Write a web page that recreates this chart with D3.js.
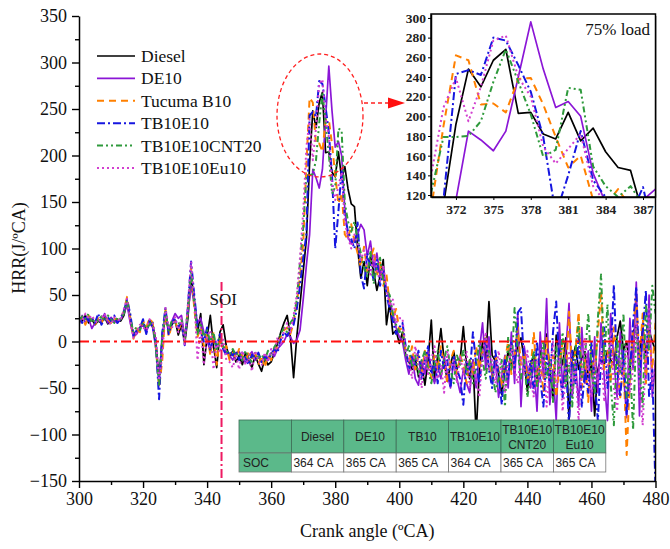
<!DOCTYPE html>
<html>
<head>
<meta charset="utf-8">
<script src="https://cdn.jsdelivr.net/npm/d3@7/dist/d3.min.js"></script>
<style>
  html, body { margin: 0; padding: 0; background: #fff; }
  svg { display: block; }
  .serif { font-family: "Liberation Serif", "Times New Roman", Times, serif; }
  .sans { font-family: "Liberation Sans", Arial, Helvetica, sans-serif; }
</style>
</head>
<body>
<svg id="chart" width="670" height="549"></svg>
<script>
// Heat release rate (J/°CA) per crank angle, 300–480 °CA, 1 °CA step
const startCA = 300;
const endCA = 480;

const diesel = [
  25, 22, 28, 20, 24, 18, 22, 20, 26, 19, 23, 21, 24, 22, 28,
  42, 24, 8, 11, 15, 20, 12, 23, 18, 0, -40, 2, 28, 10, 18, 23, 7, 18, -2, 25,
  70, 45, 10, 30, -25, 5, 28, -5, -28, 10, 18, -5, -18,
  -10, -22, -15, -25, -12, -20, -28, -15, -24, -32, -18, -25, -22, -12, -2, 10, 20, 28, 5, -39,
  5, 40, 75, 110, 192,
  248, 230, 257, 268, 203, 204, 182, 177, 204, 175, 188, 164, 148, 145, 100,
  68, 86, 60, 92, 75, 55, 70, 88, 18, 42, 8, 12, -2,
  10, -15, -22, -30, -18, -38, -25, -47, -20, 23, -43, -15, 14, -20, -43, -25, -11, -30, -20, 16,
  -25, -40, -20, -100, -30, 0, -20, 43, -15, -21, -35, -57, -30, -10, -25, -21, -5, 4, -20, -54,
  -25, -14, -40, -10, -21, 8, -30, -61, 7, -11, -25, 4, -85, -20, -5, -30, -18, -11, -40, -21,
  -80, -30, -18, -25, -10, -20, -25, 5, 22, -10, 0, -32, 10, 18, -20, 16, -15, 12, 0, -10
];

const de10 = [
  18, 28, 20, 25, 14, 20, 24, 22, 30, 20, 26, 22, 20, 24, 30,
  40, 20, 5, 8, 14, 18, 10, 20, 15, -8, -45, 8, 30, 12, 22, 30, 25, 28, 5, 30,
  60, 40, 20, 25, 10, 0, -10, 5, -8, 0, -5, -12, -15,
  -20, -12, -11, -18, -23, -15, -11, -20, -16, -22, -14, -18, -12, -16, -8, -4, 0, 8, 5, -2,
  2, 12, 45, 82, 115,
  185, 176, 165, 185, 240, 296, 248, 209, 215, 200, 142, 112, 105, 110, 115,
  126, 120, 92, 108, 80, 95, 72, 80, 55, 45, 30, 15, 5,
  0, -20, -35, -15, -40, -47, -20, -35, -10, -30, -45, -25, -40, -15, -35, -50, -20, -40, -55, -30,
  -45, -55, -20, -50, -10, 20, -30, 5, -40, -20, -60, -35, -15, -50, 10, -45, 30, -70, -5, -30,
  -50, -20, -75, 10, -40, 46, -68, -30, -85, 20, -50, -10, 41, -60, -20, -70, 15, -45, -10, -75,
  5, -55, 20, -40, -85, 30, -20, -60, 10, -35, -82, 25, -30, 64, -80, 20, -40, 50, -60, -20
];

const tucumaB10 = [
  20, 26, 18, 28, 22, 18, 25, 20, 28, 24, 20, 25, 22, 26, 32,
  48, 26, 3, 14, 10, 22, 15, 25, 20, -5, -50, -20, 35, 5, 18, 22, 12, 20, 0, 35,
  79, 35, 5, 15, -5, 10, -15, 10, -25, 5, -10, -5, -20,
  -12, -18, -8, -15, -22, -10, -18, -12, -25, -15, -28, -15, -20, -10, -5, 5, 12, 15, 8, 20,
  40, 70, 105, 190, 262,
  257, 212, 213, 204, 238, 239, 212, 179, 148, 160, 115, 110, 126, 108, 95,
  80, 102, 75, 90, 100, 70, 85, 60, 72, 40, 25, 35, 12,
  15, -10, -25, -5, -30, -15, -35, -10, -20, -40, -15, -30, -5, -25, -45, -20, -10, -35, -15, -25,
  -45, -20, -35, -5, -30, -10, 5, -25, -40, -15, -30, -50, -20, 0, -35, -15, 15, -25, -10, -40,
  -30, 10, -45, -20, -55, 5, -35, -15, -60, -25, 0, -40, 32, -30, -10, 32, -50, -20, -65, -5,
  -35, 10, 54, -30, -10, -45, 15, -25, -60, -20, -122, -40, 15, 47, -20, 30, -45, 10, -30, 20
];

const tb10e10 = [
  26, 20, 28, 22, 26, 20, 30, 18, 24, 26, 22, 28, 20, 25, 33,
  45, 30, 6, 12, 14, 24, 8, 22, 16, -2, -62, 10, 36, 8, 20, 25, 15, 22, -4, 38,
  86, 50, 15, 10, 0, 15, -10, 5, -5, 8, -8, -15, -10,
  -15, -10, -20, -12, -18, -25, -14, -20, -12, -22, -16, -20, -14, -8, -12, 2, 10, 6, 14, 18,
  35, 60, 90, 115, 243,
  247, 242, 280, 277, 252, 225, 179, 100, 140, 185, 135, 118, 110, 100, 128,
  72, 57, 95, 80, 66, 88, 60, 75, 50, 35, 22, 8, 15,
  20, -5, -30, -15, -25, -10, -40, -20, -5, -35, -20, -45, -10, -30, -20, -50, -15, -30, -40, -68,
  -20, -35, 10, -25, -45, -15, 5, -30, -50, -10, -35, -68, -20, -40, 0, -30, 31, 36, -25, -45,
  -20, -55, 0, -40, -70, -15, -45, 10, 43, -30, -60, -20, -90, -10, -45, 5, -70, -30, -55, 0,
  -40, -85, -20, 15, -50, -15, 61, -30, -60, -10, -79, -35, 20, 59, -40, 10, 55, -60, -30, -160
];

const tb10e10cnt20 = [
  22, 27, 24, 30, 20, 24, 22, 27, 22, 28, 24, 20, 26, 24, 30,
  44, 25, 10, 16, 12, 20, 14, 18, 22, -6, -48, 5, 32, 12, 22, 20, 18, 24, 2, 32,
  75, 40, 8, 20, 5, 12, 0, 10, -10, 5, -5, -10, -14,
  -8, -15, -12, -20, -10, -18, -22, -12, -18, -14, -20, -10, -16, -6, 0, 8, 15, 10, 20, 25,
  45, 85, 122, 179, 179,
  180, 195, 235, 268, 235, 202, 159, 166, 229, 227, 149, 129, 118, 129, 110,
  95, 80, 70, 98, 62, 80, 90, 65, 55, 50, 30, 18, 10,
  12, -15, -5, -28, -15, -35, -20, -10, -30, -45, -25, -10, -35, -20, -5, -30, -45, -15, -25, -10,
  -35, -20, -45, -25, 0, -20, -40, -10, -30, -55, -40, -20, -70, 5, -30, 36, -10, -40, -20, -60,
  -35, -10, -50, -25, 0, -40, -20, -65, -5, -35, 10, -50, -25, -70, -10, 20, -40, -15, 30, -30,
  -55, 25, 72, -20, 40, -45, -90, 5, -35, 30, -60, -20, -95, 15, -30, -70, 40, -10, 60, 30
];

const tb10e10eu10 = [
  24, 22, 30, 24, 28, 22, 20, 25, 30, 22, 18, 26, 24, 22, 35,
  46, 22, 4, 10, 18, 15, 12, 24, 20, 5, -42, -15, 36, 15, 14, 26, 10, 25, -3, 40,
  86, 45, -20, 15, -25, 5, 12, -30, 0, -12, 2, -20, -22,
  -28, -15, -30, -10, -25, -18, -32, -10, -20, -26, -12, -22, -8, -15, 5, -5, 12, 20, 10, 28,
  50, 90, 139, 209, 239,
  195, 230, 277, 282, 240, 220, 169, 152, 167, 182, 129, 112, 100, 115, 105,
  88, 98, 82, 72, 92, 78, 65, 82, 58, 38, 45, 20, 25,
  25, -10, -20, -40, -5, -25, -50, -15, -35, -20, -5, -40, -25, -55, -10, -30, -20, -45, -15, -35,
  -10, -50, -25, -40, -60, -15, 10, -30, -20, -45, -10, -35, -55, -25, -5, -30, -45, -15, -35, -10,
  -40, -60, -20, -45, -10, -70, -30, 0, -50, -20, -75, -35, -10, -55, -25, -85, -30, 5, -40, -60,
  -20, -45, -10, -65, -25, 10, -50, -75, -20, -40, 0, -55, -30, 20, -45, -90, -15, 35, -50, -25
];

const seriesNames = ["Diesel", "DE10", "Tucuma B10", "TB10E10", "TB10E10CNT20", "TB10E10Eu10"];
const seriesValues = [diesel, de10, tucumaB10, tb10e10, tb10e10cnt20, tb10e10eu10];

const xTicks = [300, 320, 340, 360, 380, 400, 420, 440, 460, 480];
const yTicks = [-150, -100, -50, 0, 50, 100, 150, 200, 250, 300, 350];
const insetXTicks = [372, 375, 378, 381, 384, 387];
const insetYTicks = [120, 140, 160, 180, 200, 220, 240, 260, 280, 300];

const soiAngle = 344.5;
const tableFuels = ["Diesel", "DE10", "TB10", "TB10E10", "TB10E10\nCNT20", "TB10E10\nEu10"];
const tableSOC = [364, 365, 365, 364, 365, 365];

// ---- styles
const styles = [
  { color: "#000000", dash: null, width: 1.7 },
  { color: "#8b16d6", dash: null, width: 1.7 },
  { color: "#ff8000", dash: "7,5", width: 2 },
  { color: "#1616e0", dash: "8,3,2,3", width: 2 },
  { color: "#2f9a3c", dash: "6,3,2,3,2,3", width: 2 },
  { color: "#d23fcf", dash: "2,3", width: 2 }
];

const svg = d3.select("#chart");
const W = 670, H = 549;
svg.append("rect").attr("width", W).attr("height", H).attr("fill", "#fff");

const plot = { left: 79, right: 655.5, top: 16, bottom: 481 };
const x = d3.scaleLinear().domain([startCA, endCA]).range([plot.left, plot.right]);
const y = d3.scaleLinear().domain([-150, 350]).range([plot.bottom, plot.top]);

const angles = d3.range(startCA, endCA + 1);
const seriesData = seriesValues.map(vals => angles.map((a, i) => ({ a, v: vals[i] })));

const defs = svg.append("defs");
defs.append("clipPath").attr("id", "mainClip").append("rect")
  .attr("x", plot.left).attr("y", plot.top)
  .attr("width", plot.right - plot.left).attr("height", plot.bottom - plot.top);

// ---- main curves
const line = d3.line().x(d => x(d.a)).y(d => y(d.v));
const gLines = svg.append("g").attr("clip-path", "url(#mainClip)");
seriesData.forEach((data, i) => {
  gLines.append("path").datum(data)
    .attr("d", line)
    .attr("fill", "none")
    .attr("stroke", styles[i].color)
    .attr("stroke-width", styles[i].width)
    .attr("stroke-dasharray", styles[i].dash)
    .attr("stroke-linejoin", "round");
});

// zero reference line
svg.append("line")
  .attr("x1", plot.left).attr("x2", plot.right)
  .attr("y1", y(0)).attr("y2", y(0))
  .attr("stroke", "#ff1010").attr("stroke-width", 1.8)
  .attr("stroke-dasharray", "10,4,3,4");

// start of injection marker
svg.append("line")
  .attr("x1", x(soiAngle)).attr("x2", x(soiAngle))
  .attr("y1", y(64)).attr("y2", plot.bottom)
  .attr("stroke", "#ee1a62").attr("stroke-width", 2)
  .attr("stroke-dasharray", "9,3,2,3");
svg.append("text").attr("class", "serif")
  .attr("x", x(soiAngle) - 12).attr("y", 305)
  .attr("font-size", 17)
  .attr("fill", "#111").text("SOI");

// ---- axes
const yMinor = d3.range(-125, 350, 50);
const xMinor = d3.range(310, 480, 20);

const yAxis = svg.append("g").attr("transform", `translate(${plot.left},0)`)
  .call(d3.axisLeft(y).tickValues(yTicks).tickSize(7).tickPadding(5).tickSizeOuter(0));
svg.append("g").attr("transform", `translate(${plot.left},0)`)
  .call(d3.axisLeft(y).tickValues(yMinor).tickSize(4).tickFormat("").tickSizeOuter(0))
  .select(".domain").remove();
const xAxis = svg.append("g").attr("transform", `translate(0,${plot.bottom})`)
  .call(d3.axisBottom(x).tickValues(xTicks).tickSize(7).tickPadding(4).tickSizeOuter(0));
svg.append("g").attr("transform", `translate(0,${plot.bottom})`)
  .call(d3.axisBottom(x).tickValues(xMinor).tickSize(4).tickFormat("").tickSizeOuter(0))
  .select(".domain").remove();

svg.selectAll(".tick line").attr("stroke", "#000").attr("stroke-width", 1.4);
svg.selectAll(".domain").attr("stroke", "#000").attr("stroke-width", 1.5);
[yAxis, xAxis].forEach(g => {
  g.attr("font-family", null);
  g.selectAll("text").attr("class", "serif").attr("font-size", 18).attr("fill", "#111");
});

// right edge of the plot frame (open on top)
svg.append("line")
  .attr("x1", plot.right).attr("x2", plot.right)
  .attr("y1", plot.top).attr("y2", plot.bottom)
  .attr("stroke", "#000").attr("stroke-width", 1.5);

// axis titles
svg.append("text").attr("class", "serif")
  .attr("x", (plot.left + plot.right) / 2).attr("y", 537)
  .attr("text-anchor", "middle")
  .attr("font-size", 18).attr("fill", "#111")
  .text("Crank angle (ºCA)");
svg.append("text").attr("class", "serif")
  .attr("transform", "translate(25,248) rotate(-90)")
  .attr("text-anchor", "middle")
  .attr("font-size", 18).attr("fill", "#111")
  .text("HRR(J/ºCA)");

// ---- legend
const legend = svg.append("g");
const legendY0 = 56, legendDy = 22.4;
seriesNames.forEach((name, i) => {
  const ly = legendY0 + i * legendDy;
  legend.append("line")
    .attr("x1", 97).attr("x2", 135).attr("y1", ly).attr("y2", ly)
    .attr("stroke", styles[i].color).attr("stroke-width", styles[i].width)
    .attr("stroke-dasharray", styles[i].dash);
  legend.append("text").attr("class", "serif")
    .attr("x", 141).attr("y", ly + 6)
    .attr("font-size", 17.5).attr("fill", "#111")
    .text(name);
});

// ---- highlight ellipse and arrow
svg.append("ellipse")
  .attr("cx", 320).attr("cy", 115.5).attr("rx", 43).attr("ry", 61.5)
  .attr("fill", "none").attr("stroke", "#ff2020").attr("stroke-width", 1.3)
  .attr("stroke-dasharray", "4,3");
svg.append("line")
  .attr("x1", 364).attr("x2", 390).attr("y1", 103).attr("y2", 103)
  .attr("stroke", "#ff2020").attr("stroke-width", 1.3).attr("stroke-dasharray", "4,3");
svg.append("path")
  .attr("d", "M388,97.5 L405,103 L388,108.5 Z")
  .attr("fill", "#ff1010");

// ---- inset (zoom on the combustion peak)
const inset = { left: 431, right: 655.5, top: 14, bottom: 197 };
const ix = d3.scaleLinear().domain([370, 388]).range([inset.left, inset.right]);
const iy = d3.scaleLinear().domain([118, 304]).range([inset.bottom, inset.top]);

svg.append("rect")
  .attr("x", inset.left).attr("y", inset.top)
  .attr("width", inset.right - inset.left).attr("height", inset.bottom - inset.top)
  .attr("fill", "#fff");
defs.append("clipPath").attr("id", "insetClip").append("rect")
  .attr("x", inset.left).attr("y", inset.top)
  .attr("width", inset.right - inset.left).attr("height", inset.bottom - inset.top);

const iline = d3.line().x(d => ix(d.a)).y(d => iy(d.v));
const gInset = svg.append("g").attr("clip-path", "url(#insetClip)");
seriesData.forEach((data, i) => {
  gInset.append("path").datum(data.filter(d => d.a >= 369 && d.a <= 389))
    .attr("d", iline)
    .attr("fill", "none")
    .attr("stroke", styles[i].color)
    .attr("stroke-width", styles[i].width)
    .attr("stroke-dasharray", styles[i].dash)
    .attr("stroke-linejoin", "round");
});

const iyAxis = svg.append("g").attr("transform", `translate(${inset.left},0)`)
  .call(d3.axisLeft(iy).tickValues(insetYTicks).tickSize(3).tickPadding(2).tickSizeOuter(0));
const ixAxis = svg.append("g").attr("transform", `translate(0,${inset.bottom})`)
  .call(d3.axisBottom(ix).tickValues(insetXTicks).tickSize(3).tickPadding(4).tickSizeOuter(0));
[iyAxis, ixAxis].forEach(g => {
  g.attr("font-family", null);
  g.selectAll("text").attr("class", "serif").attr("font-size", 13.5)
    .attr("font-weight", "bold").attr("fill", "#222");
  g.selectAll(".tick line").attr("stroke", "#000").attr("stroke-width", 1);
  g.select(".domain").attr("stroke", "#000").attr("stroke-width", 1.5);
});
svg.append("rect")
  .attr("x", inset.left).attr("y", inset.top)
  .attr("width", inset.right - inset.left).attr("height", inset.bottom - inset.top)
  .attr("fill", "none").attr("stroke", "#000").attr("stroke-width", 1.5);
svg.append("text").attr("class", "serif")
  .attr("x", 650).attr("y", 35).attr("text-anchor", "end")
  .attr("font-size", 17).attr("fill", "#111")
  .text("75% load");

// ---- start of combustion table
const table = { left: 239, top: 420, colW: 52.4, headH: 33, rowH: 19 };
const green = "#5bb98a";
const gTab = svg.append("g");
const cols = d3.range(tableFuels.length + 1);
cols.forEach(c => {
  const cx = table.left + c * table.colW;
  gTab.append("rect")
    .attr("x", cx).attr("y", table.top)
    .attr("width", table.colW).attr("height", table.headH)
    .attr("fill", green).attr("stroke", "#3d6b55").attr("stroke-width", 0.8);
  gTab.append("rect")
    .attr("x", cx).attr("y", table.top + table.headH)
    .attr("width", table.colW).attr("height", table.rowH)
    .attr("fill", c === 0 ? green : "#fff").attr("stroke", "#777").attr("stroke-width", 0.8);
  if (c === 0) {
    gTab.append("text").attr("class", "sans")
      .attr("x", cx + 4).attr("y", table.top + table.headH + 14)
      .attr("font-size", 12).attr("fill", "#222")
      .text("SOC");
    return;
  }
  const lines = tableFuels[c - 1].split("\n");
  const t = gTab.append("text").attr("class", "sans")
    .attr("text-anchor", "middle")
    .attr("font-size", 12).attr("fill", "#222");
  lines.forEach((ln, k) => {
    t.append("tspan")
      .attr("x", cx + table.colW / 2)
      .attr("y", table.top + (lines.length === 1 ? 21 : 14 + k * 14.5))
      .text(ln);
  });
  gTab.append("text").attr("class", "sans")
    .attr("x", cx + 2).attr("y", table.top + table.headH + 14)
    .attr("font-size", 12).attr("fill", "#222")
    .text(`${tableSOC[c - 1]} CA`);
});
</script>
</body>
</html>
